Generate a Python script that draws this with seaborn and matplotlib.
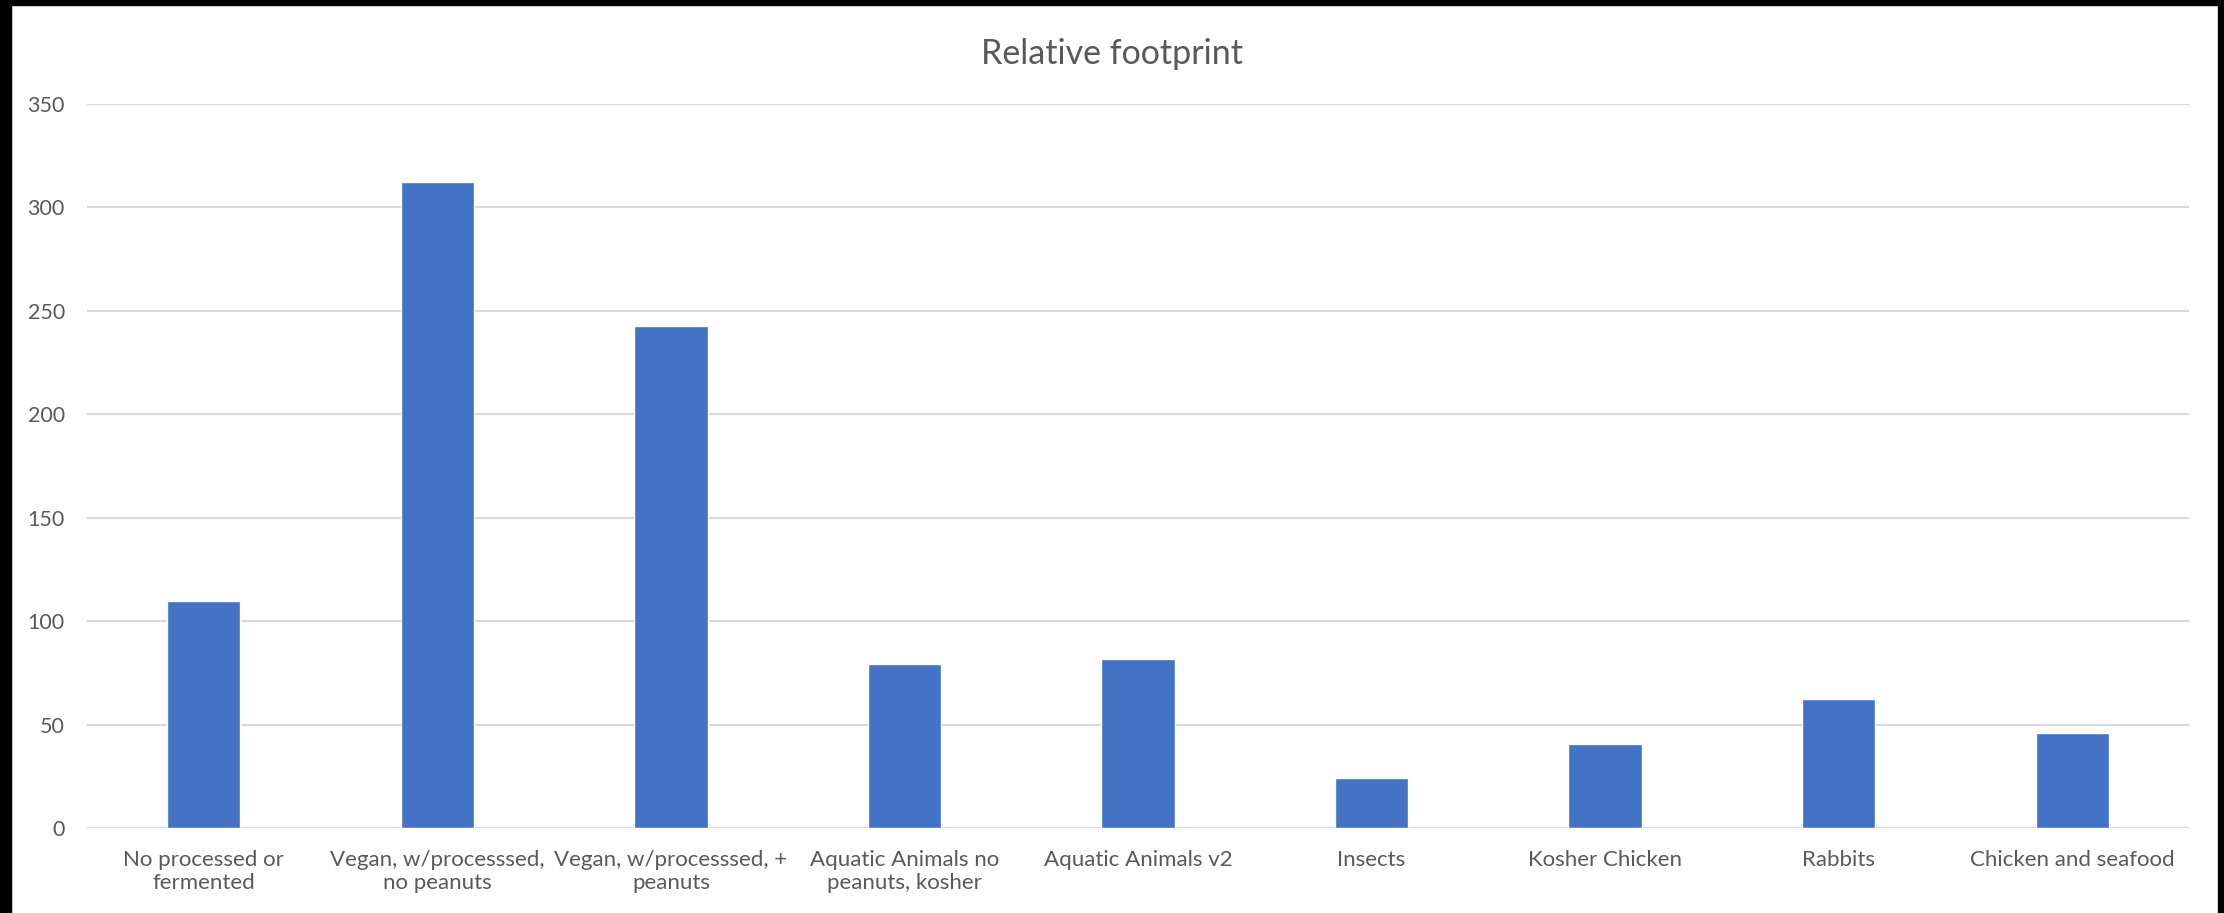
import matplotlib
matplotlib.use("Agg")
import matplotlib.pyplot as plt
from matplotlib.patches import Rectangle
import seaborn as sns
import pandas as pd

categories = [
    "No processed or fermented",
    "Vegan, w/processsed, no peanuts",
    "Vegan, w/processsed, + peanuts",
    "Aquatic Animals no peanuts, kosher",
    "Aquatic Animals v2",
    "Insects",
    "Kosher Chicken",
    "Rabbits",
    "Chicken and seafood",
]
tick_labels = [
    "No processed or\nfermented",
    "Vegan, w/processsed,\nno peanuts",
    "Vegan, w/processsed, +\npeanuts",
    "Aquatic Animals no\npeanuts, kosher",
    "Aquatic Animals v2",
    "Insects",
    "Kosher Chicken",
    "Rabbits",
    "Chicken and seafood",
]
values = [109.5, 312.1, 242.9, 79.4, 81.8, 24.0, 40.8, 62.3, 46.1]
y_ticks = [0, 50, 100, 150, 200, 250, 300, 350]
title = "Relative footprint"

sns.set_theme(style="white")
plt.rcParams["font.family"] = ["Lato", "DejaVu Sans"]

df = pd.DataFrame({"cat": categories, "val": values})

W, H = 2224, 913
fig = plt.figure(figsize=(W / 100, H / 100), dpi=100)
fig.patch.set_facecolor("white")
ax = fig.add_axes([87 / W, 1 - 828 / H, (2189 - 87) / W, (828 - 104) / H])

sns.barplot(data=df, x="cat", y="val", color="#4472C4", saturation=1,
            width=0.314, ax=ax, zorder=3)

ax.set_ylim(0, 350)
ax.set_xlim(-0.5, len(categories) - 0.5)
ax.set_yticks(y_ticks)
ax.set_yticklabels([str(t) for t in y_ticks])
ax.set_xticks(range(len(categories)))
ax.set_xticklabels(tick_labels, linespacing=1.2)
ax.set_xlabel("")
ax.set_ylabel("")
for s in ax.spines.values():
    s.set_visible(False)
ax.yaxis.grid(True, color="#D9D9D9", linewidth=1.5, zorder=0)
ax.xaxis.grid(False)
ax.set_axisbelow(True)
ax.tick_params(axis="both", length=0, colors="#595959")
ax.tick_params(axis="x", pad=16, labelsize=16)
ax.tick_params(axis="y", pad=16, labelsize=15.5)

fig.text(0.5, 1 - 54 / H, title, ha="center", va="center",
         fontsize=24.5, color="#595959")

# black screen border
fig.add_artist(Rectangle((0, 0), 11 / W, 1, transform=fig.transFigure,
                         color="black", zorder=10))
fig.add_artist(Rectangle((0, 1 - 5 / H), 1, 5 / H, transform=fig.transFigure,
                         color="black", zorder=10))
fig.add_artist(Rectangle((1 - 6 / W, 0), 6 / W, 1, transform=fig.transFigure,
                         color="black", zorder=10))

fig.savefig("out.png", dpi=100)
